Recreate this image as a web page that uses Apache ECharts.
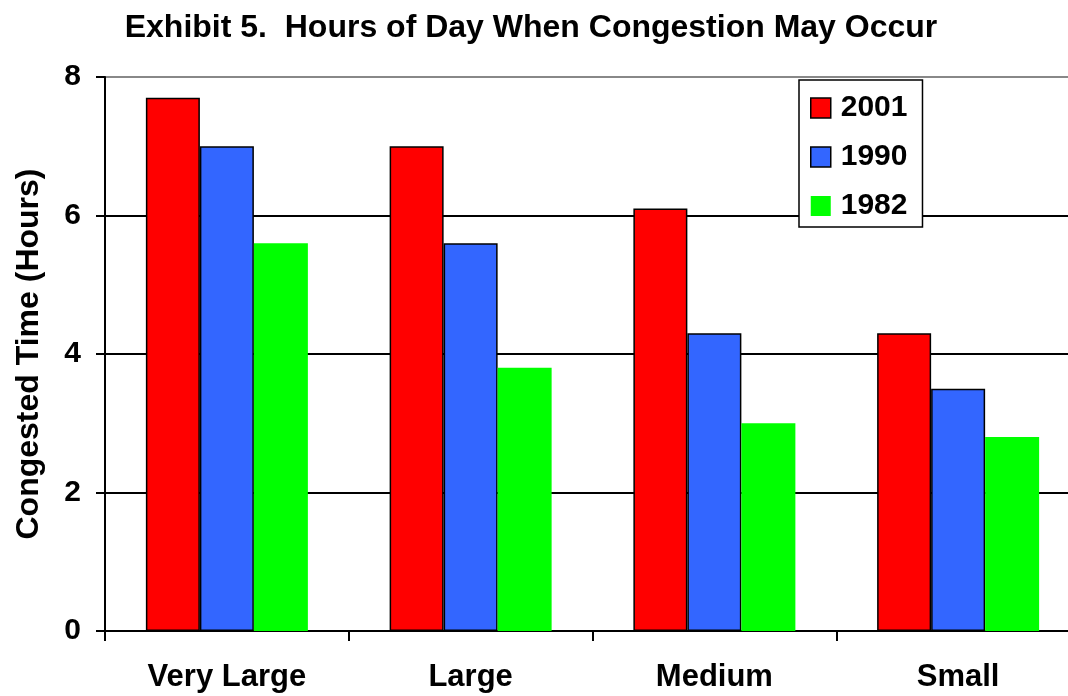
<!DOCTYPE html>
<html>
<head>
<meta charset="utf-8">
<script src="https://cdn.jsdelivr.net/npm/echarts@6/dist/echarts.min.js"></script>
<style>
  html, body { margin: 0; padding: 0; background: #fff; }
  #chart { width: 1068px; height: 696px; }
</style>
</head>
<body>
<div id="chart"></div>
<script>
// data
var categories = ['Very Large', 'Large', 'Medium', 'Small'];
var years = ['2001', '1990', '1982'];
var values2001 = [7.7, 7.0, 6.1, 4.3];
var values1990 = [7.0, 5.6, 4.3, 3.5];
var values1982 = [5.6, 3.8, 3.0, 2.8];
var yTicks = [0, 2, 4, 6, 8];

var font = '"Liberation Sans", Arial, sans-serif';
var colors = ['#ff0000', '#3366ff', '#00ff00'];
var borders = ['#000', '#000', 'transparent'];
var seriesValues = [values2001, values1990, values1982];

var myChart = echarts.init(document.getElementById('chart'));

var series = years.map(function (y, i) {
    return {
        name: y,
        type: 'bar',
        data: seriesValues[i],
        barWidth: 54,
        barGap: '0%',
        itemStyle: {
            color: colors[i],
            borderColor: borders[i],
            borderWidth: i < 2 ? 1.5 : 0
        }
    };
});

var option = {
    animation: false,
    backgroundColor: '#fff',
    textStyle: { fontFamily: font },
    title: {
        text: 'Exhibit 5.  Hours of Day When Congestion May Occur',
        left: 526,
        textAlign: 'center',
        top: 7,
        textStyle: { fontFamily: font, fontWeight: 'bold', fontSize: 32, color: '#000' }
    },
    legend: {
        orient: 'vertical',
        left: 799,
        top: 80,
        padding: [13, 15, 6, 11],
        itemGap: 19,
        itemWidth: 20,
        itemHeight: 20,
        borderColor: '#000',
        borderWidth: 1.5,
        backgroundColor: '#fff',
        data: years.map(function (y, i) {
            return {
                name: y,
                icon: 'rect',
                itemStyle: { color: colors[i], borderColor: borders[i], borderWidth: i < 2 ? 1.5 : 0 }
            };
        }),
        textStyle: { fontFamily: font, fontWeight: 'bold', fontSize: 30, color: '#000', padding: [0, 0, 0, 5] }
    },
    grid: {
        left: 105,
        top: 77,
        width: 975,
        height: 554,
        outerBoundsMode: 'none'
    },
    xAxis: {
        type: 'category',
        data: categories,
        axisLine: { lineStyle: { color: '#000', width: 2 } },
        axisTick: { show: true, length: 10, lineStyle: { color: '#000', width: 2 } },
        axisLabel: {
            margin: 31,
            fontFamily: font, fontWeight: 'bold', fontSize: 31, color: '#000'
        }
    },
    yAxis: {
        type: 'value',
        min: 0,
        max: 8,
        interval: 2,
        name: 'Congested Time (Hours)',
        nameLocation: 'middle',
        nameGap: 60,
        nameTextStyle: { fontFamily: font, fontWeight: 'bold', fontSize: 32, color: '#000' },
        axisLine: { show: true, lineStyle: { color: '#000', width: 2 } },
        axisTick: { show: true, length: 9, lineStyle: { color: '#000', width: 2 } },
        axisLabel: {
            margin: 24,
            fontFamily: font, fontWeight: 'bold', fontSize: 30, color: '#000',
            formatter: function (v) { return yTicks.indexOf(v) >= 0 ? String(v) : ''; }
        },
        splitLine: {
            show: true,
            lineStyle: { color: ['#000', '#000', '#000', '#000', '#888'], width: 2 }
        }
    },
    series: series
};

myChart.setOption(option);

window.addEventListener('resize', function () {
    myChart.resize();
});
</script>
</body>
</html>
